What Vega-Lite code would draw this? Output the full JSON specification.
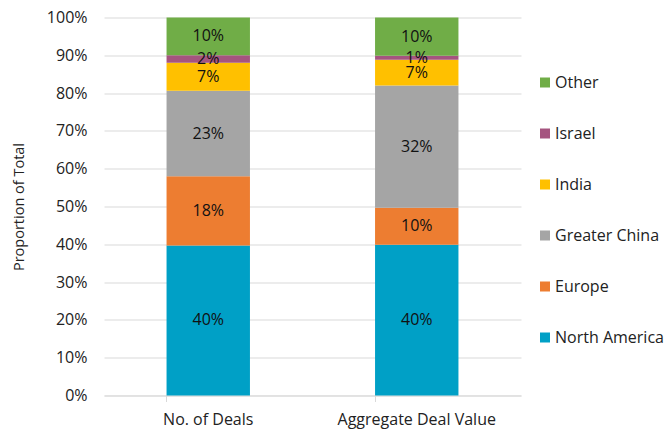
{
  "$schema": "https://vega.github.io/schema/vega-lite/v6.json",
  "width": 417,
  "height": 378,
  "autosize": {"type": "none"},
  "padding": {"left": 104, "top": 17.5, "right": 148, "bottom": 33.5},
  "background": "white",
  "config": {
    "font": "Open Sans",
    "view": {"stroke": null},
    "axis": {"labelColor": "#222222", "titleColor": "#222222", "labelFont": "Open Sans", "titleFont": "Open Sans"},
    "legend": {"labelFont": "Open Sans"}
  },
  "data": {
    "values": [
      {"metric": "No. of Deals", "region": "North America", "ord": 1, "value": 0.397},
      {"metric": "No. of Deals", "region": "Europe", "ord": 2, "value": 0.183},
      {"metric": "No. of Deals", "region": "Greater China", "ord": 3, "value": 0.226},
      {"metric": "No. of Deals", "region": "India", "ord": 4, "value": 0.074},
      {"metric": "No. of Deals", "region": "Israel", "ord": 5, "value": 0.020},
      {"metric": "No. of Deals", "region": "Other", "ord": 6, "value": 0.100},
      {"metric": "Aggregate Deal Value", "region": "North America", "ord": 1, "value": 0.399},
      {"metric": "Aggregate Deal Value", "region": "Europe", "ord": 2, "value": 0.098},
      {"metric": "Aggregate Deal Value", "region": "Greater China", "ord": 3, "value": 0.323},
      {"metric": "Aggregate Deal Value", "region": "India", "ord": 4, "value": 0.068},
      {"metric": "Aggregate Deal Value", "region": "Israel", "ord": 5, "value": 0.011},
      {"metric": "Aggregate Deal Value", "region": "Other", "ord": 6, "value": 0.101}
    ]
  },
  "encoding": {
    "x": {
      "field": "metric",
      "type": "nominal",
      "sort": ["No. of Deals", "Aggregate Deal Value"],
      "scale": {"paddingInner": 0.6, "paddingOuter": 0.3},
      "axis": {
        "title": null,
        "labelAngle": 0,
        "labelFontSize": 16,
        "labelPadding": 10,
        "bandPosition": 0,
        "ticks": true,
        "tickSize": 6,
        "tickColor": "#D9D9D9",
        "domainColor": "#D9D9D9",
        "grid": false
      }
    },
    "y": {
      "field": "value",
      "type": "quantitative",
      "stack": "zero",
      "scale": {"domain": [0, 1], "nice": false},
      "axis": {
        "title": "Proportion of Total",
        "titleFontSize": 14.5,
        "titleFontWeight": "normal",
        "titlePadding": 20,
        "format": ".0%",
        "values": [0, 0.1, 0.2, 0.3, 0.4, 0.5, 0.6, 0.7, 0.8, 0.9, 1],
        "labelFontSize": 16,
        "labelPadding": 17,
        "ticks": false,
        "domain": false,
        "grid": true,
        "gridColor": "#D9D9D9"
      }
    },
    "order": {"field": "ord", "type": "quantitative", "sort": "ascending"}
  },
  "layer": [
    {
      "mark": {"type": "bar"},
      "encoding": {
        "color": {
          "field": "region",
          "type": "nominal",
          "scale": {
            "domain": ["Other", "Israel", "India", "Greater China", "Europe", "North America"],
            "range": ["#70AD47", "#A5547F", "#FFC000", "#A5A5A5", "#ED7D31", "#00A0C6"]
          },
          "legend": {
            "title": null,
            "orient": "none",
            "legendX": 433,
            "legendY": 57,
            "padding": 0,
            "symbolType": "square",
            "symbolSize": 100,
            "symbolStrokeWidth": 0,
            "labelFontSize": 16,
            "labelColor": "#222222",
            "labelOffset": 2,
            "rowPadding": 35,
            "labelLimit": 200
          }
        }
      }
    },
    {
      "mark": {"type": "text", "fontSize": 16, "color": "#111111", "baseline": "middle"},
      "encoding": {
        "y": {"field": "value", "type": "quantitative", "stack": "zero", "bandPosition": 0.5},
        "text": {"field": "value", "type": "quantitative", "format": ".0%"}
      }
    }
  ]
}
